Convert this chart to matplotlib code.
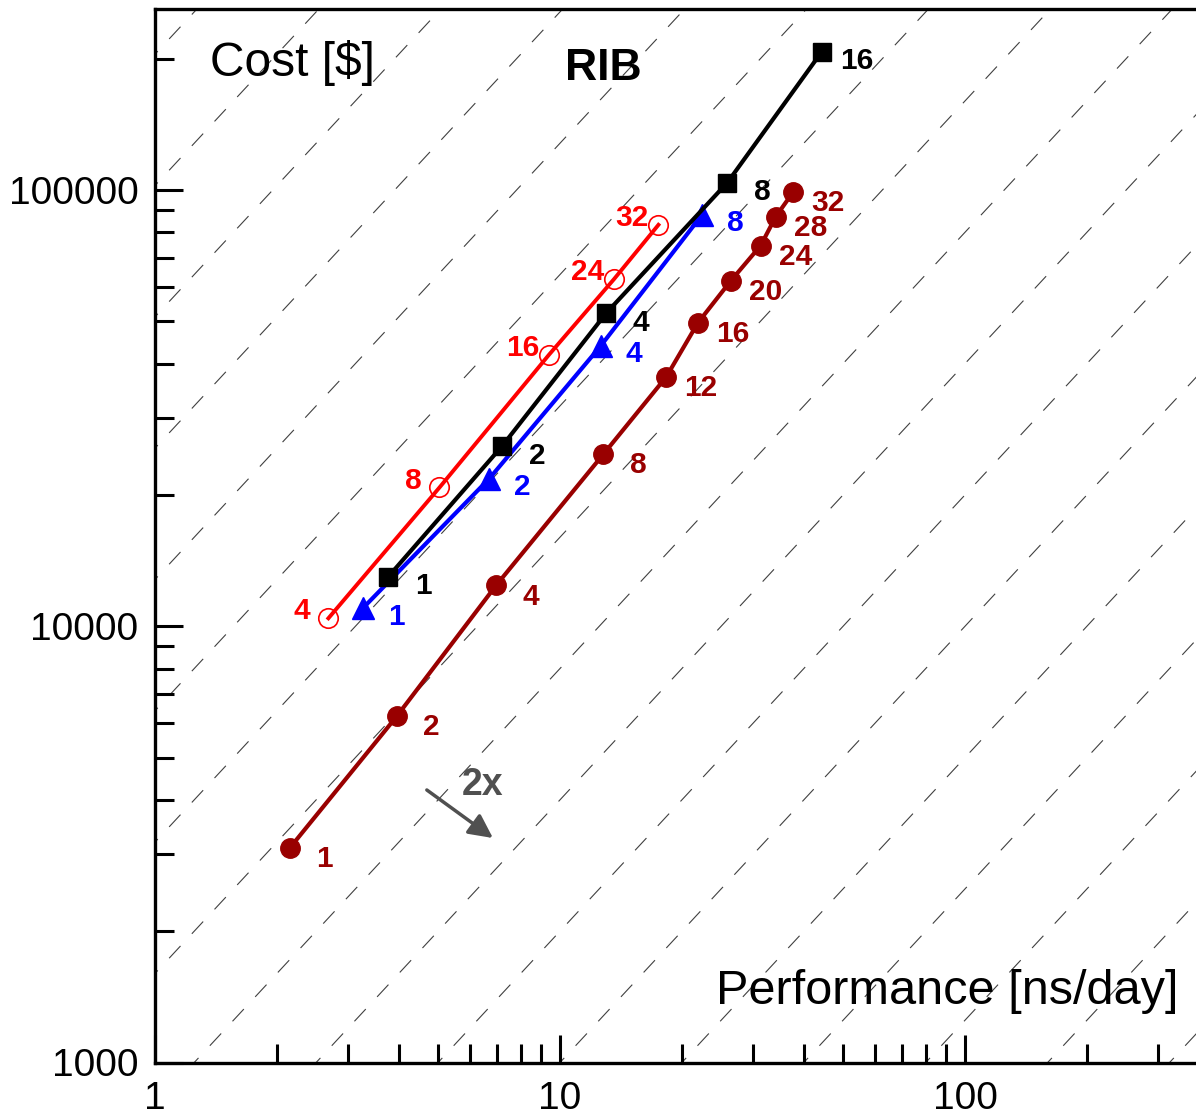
import numpy as np
import matplotlib
matplotlib.use("Agg")
import matplotlib.pyplot as plt
from matplotlib.ticker import LogLocator, NullFormatter, FixedFormatter, FixedLocator

plt.rcParams['font.family'] = ['Liberation Sans', 'DejaVu Sans']

# ── Data (performance ns/day, cost $) ─────────────────────────────────────────
darkred_n    = [1, 2, 4, 8, 12, 16, 20, 24, 28, 32]
darkred_perf = [2.15, 3.96, 6.95, 12.8, 18.3, 21.9, 26.4, 31.3, 34.1, 37.7]
darkred_cost = [3100, 6230, 12400, 24800, 37300, 49600, 61900, 74600, 86900, 99100]

red_n    = [4, 8, 16, 24, 32]
red_perf = [2.68, 5.04, 9.39, 13.6, 17.5]
red_cost = [10430, 20800, 41900, 62500, 83200]

black_n    = [1, 2, 4, 8, 16]
black_perf = [3.77, 7.20, 13.0, 25.9, 44.3]
black_cost = [13000, 25900, 52200, 104000, 207500]

blue_n    = [1, 2, 4, 8]
blue_perf = [3.26, 6.69, 12.6, 22.4]
blue_cost = [11000, 21800, 43900, 87600]

# cost/performance reference lines, spaced by 2x
ref_factors = [100 * 2.0 ** k for k in range(-7, 13)]

xticks = [1, 10, 100]
yticks = [1000, 10000, 100000]

# ── Figure ────────────────────────────────────────────────────────────────────
W, H = 1196, 1118
fig = plt.figure(figsize=(W / 100, H / 100), dpi=100)

x0_px, y0_px = 155, 1062.5
xdec, ydec = 405.0, 436.25
xmax, ymax = 400.0, 260000.0
ax_wpx = xdec * np.log10(xmax)
ax_hpx = ydec * np.log10(ymax / 1000)
ax = fig.add_axes([x0_px / W, (H - y0_px) / H, ax_wpx / W, ax_hpx / H])
ax.set_xscale('log')
ax.set_yscale('log')
ax.set_xlim(1, xmax)
ax.set_ylim(1000, ymax)

# reference dashed lines
xx = np.array([0.5, 1000.0])
for c in ref_factors:
    ax.plot(xx, c * xx, color='#404040', lw=0.8,
            linestyle=(0, (15, 15)), zorder=1)

DARKRED = '#990000'
RED = '#FF0000'
BLUE = '#0000FF'


def label_points(xs, ys, ns, color, dx, dy):
    for x, y, n in zip(xs, ys, ns):
        ax.annotate(str(n), (x, y), xytext=(dx, dy), textcoords='offset points',
                    ha='center', va='center', fontsize=21.5, fontweight='bold',
                    color=color, zorder=6)


ax.plot(darkred_perf, darkred_cost, '-o', color=DARKRED, lw=3, ms=14, zorder=4)
ax.plot(red_perf, red_cost, '-o', color=RED, lw=2.8, ms=14, mfc='none',
        mew=1.2, zorder=4)
ax.plot(blue_perf, blue_cost, '-^', color=BLUE, lw=3, ms=16, zorder=4)
ax.plot(black_perf, black_cost, '-s', color='black', lw=3, ms=13, zorder=5)

label_points(darkred_perf, darkred_cost, darkred_n, DARKRED, 25, -8)
label_points(black_perf, black_cost, black_n, 'black', 25, -7)
label_points(blue_perf, blue_cost, blue_n, BLUE, 24, -6)
label_points(red_perf, red_cost, red_n, RED, -19, 5)

# 2x arrow
ax.annotate('', xy=(6.83, 3270), xytext=(4.69, 4214),
            arrowprops=dict(arrowstyle='-|>', color='#505050', lw=2.5,
                            mutation_scale=36, shrinkA=0, shrinkB=0))
ax.text(6.45, 4325, '2x', fontsize=27, fontweight='bold', color='#505050',
        ha='center', va='center')

# texts
ax.text(55 / ax_wpx, (y0_px - 63) / ax_hpx, 'Cost [$]',
        transform=ax.transAxes, fontsize=34.5, ha='left', va='center')
ax.text(448 / ax_wpx, (y0_px - 69) / ax_hpx, 'RIB',
        transform=ax.transAxes, fontsize=32, fontweight='bold',
        ha='center', va='center')
ax.text(1023 / ax_wpx, (y0_px - 992) / ax_hpx, 'Performance [ns/day]',
        transform=ax.transAxes, fontsize=35, ha='right', va='center')

# ── Axes styling ──────────────────────────────────────────────────────────────
for side in ['left', 'bottom', 'top']:
    ax.spines[side].set_linewidth(2.4)
ax.spines['right'].set_visible(False)

ax.xaxis.set_major_locator(FixedLocator(xticks))
ax.xaxis.set_major_formatter(FixedFormatter([str(t) for t in xticks]))
ax.yaxis.set_major_locator(FixedLocator(yticks))
ax.yaxis.set_major_formatter(FixedFormatter([str(t) for t in yticks]))
ax.xaxis.set_minor_locator(LogLocator(base=10, subs=np.arange(2, 10)))
ax.yaxis.set_minor_locator(LogLocator(base=10, subs=np.arange(2, 10)))
ax.xaxis.set_minor_formatter(NullFormatter())
ax.yaxis.set_minor_formatter(NullFormatter())

ax.tick_params(which='both', direction='in', width=2.2, top=False, right=False)
ax.tick_params(which='major', length=20)
ax.tick_params(which='minor', length=13.5)
ax.tick_params(axis='x', which='major', labelsize=28, pad=13)
ax.tick_params(axis='y', which='major', labelsize=28, pad=12)

fig.savefig('out.png', dpi=100)
